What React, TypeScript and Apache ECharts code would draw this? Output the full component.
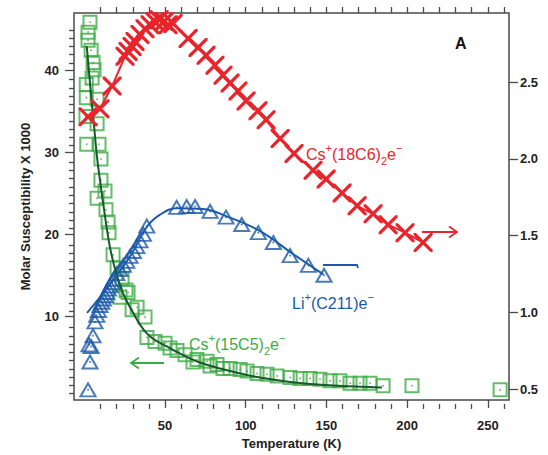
import React, { useEffect, useRef } from "react";
import * as echarts from "echarts";

// Cs+(15C5)2e- (left axis) squares
const greenT = [3.5, 2.3, 2.3, 4.2, 5.4, 6.0, 4.8, 1.2, 1.2, 7.9, 1.0, 7.9, 1.5, 9.1, 10.3, 10.3, 12.8, 7.9, 13.4, 14.7, 15.3, 17.8, 20.3, 23.4, 25.8, 22.1, 27.1, 29.6, 32.7, 37.6, 38.8, 43.8, 50.0, 53.1, 57.4, 62.4, 67.3, 69.8, 76.0, 77.9, 82.2, 85.9, 90.3, 96.5, 100.8, 107.0, 113.2, 119.4, 127.5, 133.7, 139.8, 146.0, 152.2, 158.4, 164.6, 170.8, 177.0, 185.1, 203.0, 257.6];
const greenV = [45.9, 44.7, 43.7, 42.5, 41.0, 40.1, 39.1, 38.3, 36.7, 36.5, 34.4, 33.5, 31.0, 31.0, 29.2, 26.6, 25.3, 24.4, 23.0, 21.5, 20.2, 17.5, 15.9, 14.6, 13.2, 12.3, 12.9, 10.8, 11.1, 9.9, 7.4, 6.9, 6.7, 6.1, 5.8, 5.3, 4.4, 4.7, 4.5, 3.9, 4.1, 3.6, 3.6, 3.5, 3.3, 3.0, 2.9, 2.7, 2.5, 2.4, 2.4, 2.3, 2.1, 2.1, 1.8, 1.8, 1.8, 1.5, 1.5, 1.0];
// green fit curve
const greenFitT = [1.5, 4.0, 6.0, 7.7, 8.7, 11.8, 15.9, 20.1, 24.2, 28.3, 38.7, 51.1, 69.6, 90.3, 108.9, 139.8, 184.4];
const greenFitV = [43.0, 37.4, 33.3, 29.7, 28.1, 23.6, 18.4, 15.0, 12.7, 11.1, 7.9, 6.3, 4.5, 3.3, 2.5, 1.7, 1.3];

// Li+(C211)e- (left axis) triangles
const blueT = [2.3, 3.5, 4.2, 2.9, 5.4, 6.6, 7.7, 8.7, 9.7, 10.8, 11.8, 12.8, 13.9, 14.9, 15.9, 17.0, 18.0, 20.1, 22.1, 24.2, 26.3, 28.3, 30.4, 32.5, 34.5, 36.6, 38.7, 57.2, 63.4, 68.6, 77.9, 87.8, 97.5, 107.8, 117.1, 127.5, 138.8, 148.5];
const blueV = [1.0, 4.4, 6.3, 6.5, 7.6, 9.3, 10.1, 10.7, 11.3, 11.7, 12.1, 12.5, 12.9, 13.3, 13.7, 14.1, 14.5, 15.2, 15.7, 16.2, 16.7, 17.3, 17.9, 18.5, 19.2, 20.0, 21.0, 23.3, 23.4, 23.4, 22.8, 22.1, 21.2, 20.2, 19.0, 17.4, 16.2, 15.0];
const blueFitT = [1.7, 15.9, 28.3, 38.7, 46.9, 57.2, 73.5, 88.2, 108.9, 129.3, 148.1];
const blueFitV = [10.4, 13.9, 17.3, 20.9, 22.4, 23.2, 23.1, 22.2, 20.4, 17.6, 15.1];

// Cs+(18C6)2e- (right axis) crosses
const redT = [2.3, 9.7, 17.2, 25.2, 27.1, 29.6, 31.4, 34.5, 37.6, 40.7, 43.8, 46.3, 49.4, 51.9, 55.0, 64.3, 70.5, 75.4, 80.9, 85.9, 90.3, 95.2, 100.2, 107.6, 112.6, 121.3, 129.9, 141.7, 149.8, 159.7, 169.0, 178.9, 188.2, 198.7, 209.9];
const redR = [2.274, 2.326, 2.474, 2.668, 2.700, 2.732, 2.765, 2.810, 2.848, 2.874, 2.894, 2.906, 2.894, 2.874, 2.881, 2.784, 2.726, 2.674, 2.610, 2.545, 2.494, 2.442, 2.377, 2.313, 2.255, 2.132, 2.035, 1.926, 1.868, 1.777, 1.694, 1.642, 1.571, 1.519, 1.455];

const xMajor = [50, 100, 150, 200, 250];
const xMinor = [10, 20, 30, 40, 60, 70, 80, 90, 110, 120, 130, 140, 160, 170, 180, 190, 210, 220, 230, 240, 260];
const xTop = [10, 20, 30, 40, 50, 60, 70, 80, 90, 100, 110, 120, 130, 140, 150, 160, 170, 180, 190, 200, 210, 220, 230, 240, 250, 260];
const yLeftMajor = [10, 20, 30, 40];
const yLeftMinor = [1, 2, 3, 4, 5, 6, 7, 8, 9, 11, 12, 13, 14, 15, 16, 17, 18, 19, 21, 22, 23, 24, 25, 26, 27, 28, 29, 31, 32, 33, 34, 35, 36, 37, 38, 39, 41, 42, 43, 44, 45];
const yRightMajor = [0.5, 1.0, 1.5, 2.0, 2.5];

const FONT = "'Liberation Sans', Arial, Helvetica, sans-serif";
const AX = "#4a4a4a";
const GREEN = "#3dab45";
const GREEN_FIT = "#17592b";
const BLUE = "#1d5aa6";
const RED = "#e8252c";

const X_MIN = -6.4, X_MAX = 263.1;
const YL_MIN = -0.24, YL_MAX = 47.04;
const YR_MIN = 0.429, YR_MAX = 2.95;

const zip = (a: number[], b: number[]) => a.map((v, i) => [v, b[i]]);

const GRID = { left: 74, top: 13, right: 39, bottom: 51 };

function richFor(color: string, size: number) {
  return {
    n: { fontSize: size, fontFamily: FONT, fill: color, lineHeight: 24, verticalAlign: "middle" },
    sup: { fontSize: Math.round(size * 0.66), fontFamily: FONT, fill: color, lineHeight: 12, verticalAlign: "top" },
    sub: { fontSize: Math.round(size * 0.66), fontFamily: FONT, fill: color, lineHeight: 13, verticalAlign: "bottom" },
  };
}

const XPATH = "path://M0,0L2.4,0L10,7.6L17.6,0L20,0L20,2.4L12.4,10L20,17.6L20,20L17.6,20L10,12.4L2.4,20L0,20L0,17.6L7.6,10L0,2.4Z";

const noLine = { show: false, onZero: false };

export default function App() {
  const ref = useRef<HTMLDivElement>(null);
  useEffect(() => {
    if (!ref.current) return;
    const chart = echarts.init(ref.current, null, { renderer: "svg" });
    const labelStyle = { fontSize: 13, fontWeight: "bold", color: "#222", fontFamily: FONT };
    const tickLine = { color: AX, width: 1.3 };
    const option: any = {
      animation: false,
      backgroundColor: "#fff",
      grid: [
        { ...GRID, show: true, borderColor: AX, borderWidth: 1.5, backgroundColor: "transparent" },
        { ...GRID, show: false },
        { ...GRID, show: false },
      ],
      xAxis: [
        {
          type: "value", gridIndex: 0, position: "bottom", min: X_MIN, max: X_MAX,
          axisLine: noLine, splitLine: { show: false },
          axisTick: { show: true, inside: false, length: 8, lineStyle: tickLine, customValues: xMajor },
          axisLabel: { ...labelStyle, margin: 19, customValues: xMajor },
          name: "Temperature (K)", nameLocation: "middle", nameGap: 37,
          nameTextStyle: { ...labelStyle },
        },
        {
          type: "value", gridIndex: 1, position: "bottom", min: X_MIN, max: X_MAX,
          axisLine: noLine, splitLine: { show: false }, axisLabel: { show: false },
          axisTick: { show: true, inside: false, length: 5, lineStyle: tickLine, customValues: xMinor },
        },
        {
          type: "value", gridIndex: 2, position: "top", min: X_MIN, max: X_MAX,
          axisLine: noLine, splitLine: { show: false }, axisLabel: { show: false },
          axisTick: { show: true, inside: false, length: 6, lineStyle: tickLine, customValues: xTop },
        },
      ],
      yAxis: [
        {
          type: "value", gridIndex: 0, position: "left", min: YL_MIN, max: YL_MAX,
          axisLine: noLine, splitLine: { show: false },
          axisTick: { show: true, inside: false, length: 9, lineStyle: tickLine, customValues: yLeftMajor },
          axisLabel: { ...labelStyle, margin: 15, customValues: yLeftMajor },
          name: "Molar Susceptibility X 1000", nameLocation: "middle", nameGap: 42, nameRotate: 90,
          nameTextStyle: { ...labelStyle },
        },
        {
          type: "value", gridIndex: 0, position: "right", min: YR_MIN, max: YR_MAX,
          axisLine: noLine, splitLine: { show: false },
          axisTick: { show: true, inside: false, length: 9, lineStyle: tickLine, customValues: yRightMajor },
          axisLabel: { ...labelStyle, margin: 11, customValues: yRightMajor, formatter: (v: number) => v.toFixed(1) },
        },
        {
          type: "value", gridIndex: 1, position: "left", min: YL_MIN, max: YL_MAX,
          axisLine: noLine, splitLine: { show: false }, axisLabel: { show: false },
          axisTick: { show: true, inside: false, length: 5, lineStyle: tickLine, customValues: yLeftMinor },
        },
        { type: "value", gridIndex: 2, show: false, min: 0, max: 1, axisLine: noLine },
      ],
      series: [
        {
          type: "scatter", xAxisIndex: 0, yAxisIndex: 0, data: zip(greenT, greenV),
          symbol: "rect", symbolSize: 13,
          itemStyle: { color: "transparent", borderColor: GREEN, borderWidth: 2 },
        },
        {
          type: "scatter", xAxisIndex: 0, yAxisIndex: 0, data: zip(greenT, greenV),
          symbol: "circle", symbolSize: 1.8, itemStyle: { color: GREEN },
        },
        {
          type: "scatter", xAxisIndex: 0, yAxisIndex: 0, data: zip(blueT, blueV),
          symbol: "triangle", symbolSize: [15, 13],
          itemStyle: { color: "transparent", borderColor: BLUE, borderWidth: 2 },
        },
        {
          type: "scatter", xAxisIndex: 0, yAxisIndex: 0, data: zip(blueT, blueV),
          symbol: "circle", symbolSize: 1.8, itemStyle: { color: BLUE },
        },
        {
          type: "line", xAxisIndex: 0, yAxisIndex: 0, data: zip(greenFitT, greenFitV),
          smooth: 0.4, showSymbol: false, symbol: "none",
          lineStyle: { color: GREEN_FIT, width: 2 },
        },
        {
          type: "line", xAxisIndex: 0, yAxisIndex: 0, data: zip(blueFitT, blueFitV),
          smooth: 0.4, showSymbol: false, symbol: "none",
          lineStyle: { color: BLUE, width: 2 },
        },
        {
          type: "line", xAxisIndex: 0, yAxisIndex: 1, data: zip(redT, redR),
          symbol: XPATH, symbolSize: 19, showSymbol: true, showAllSymbol: true,
          itemStyle: { color: RED }, lineStyle: { color: RED, width: 2 },
        },
      ],
      graphic: [
        {
          type: "text", x: 455, y: 35, z: 100,
          style: { text: "A", fontSize: 16, fontWeight: "bold", fontFamily: FONT, fill: "#111" },
        },
        {
          type: "text", x: 306, y: 154, z: 100,
          style: {
            text: "{n|Cs}{sup|+}{n|(18C6)}{sub|2}{n|e}{sup|−}",
            verticalAlign: "middle", align: "left", rich: richFor(RED, 16),
          },
        },
        {
          type: "text", x: 292, y: 303, z: 100,
          style: {
            text: "{n|Li}{sup|+}{n|(C211)e}{sup|−}",
            verticalAlign: "middle", align: "left", rich: richFor(BLUE, 16),
          },
        },
        {
          type: "text", x: 189, y: 344, z: 100,
          style: {
            text: "{n|Cs}{sup|+}{n|(15C5)}{sub|2}{n|e}{sup|−}",
            verticalAlign: "middle", align: "left", rich: richFor(GREEN, 16),
          },
        },
        { type: "line", z: 100, shape: { x1: 422, y1: 232, x2: 457, y2: 232 }, style: { stroke: RED, lineWidth: 1.8 } },
        { type: "polyline", z: 100, shape: { points: [[449, 226.5], [457, 232], [449, 237.5]] }, style: { stroke: RED, lineWidth: 1.8, fill: null } },
        { type: "polyline", z: 100, shape: { points: [[323, 265], [357, 265], [358, 268]] }, style: { stroke: BLUE, lineWidth: 1.8, fill: null } },
        { type: "line", z: 100, shape: { x1: 131, y1: 363, x2: 164, y2: 363 }, style: { stroke: GREEN, lineWidth: 1.8 } },
        { type: "polyline", z: 100, shape: { points: [[139, 357.5], [131, 363], [139, 368.5]] }, style: { stroke: GREEN, lineWidth: 1.8, fill: null } },
      ],
    };
    chart.setOption(option);
    return () => chart.dispose();
  }, []);
  return <div ref={ref} style={{ position: "fixed", left: 0, top: 0, width: 548, height: 455, background: "#fff" }} />;
}
